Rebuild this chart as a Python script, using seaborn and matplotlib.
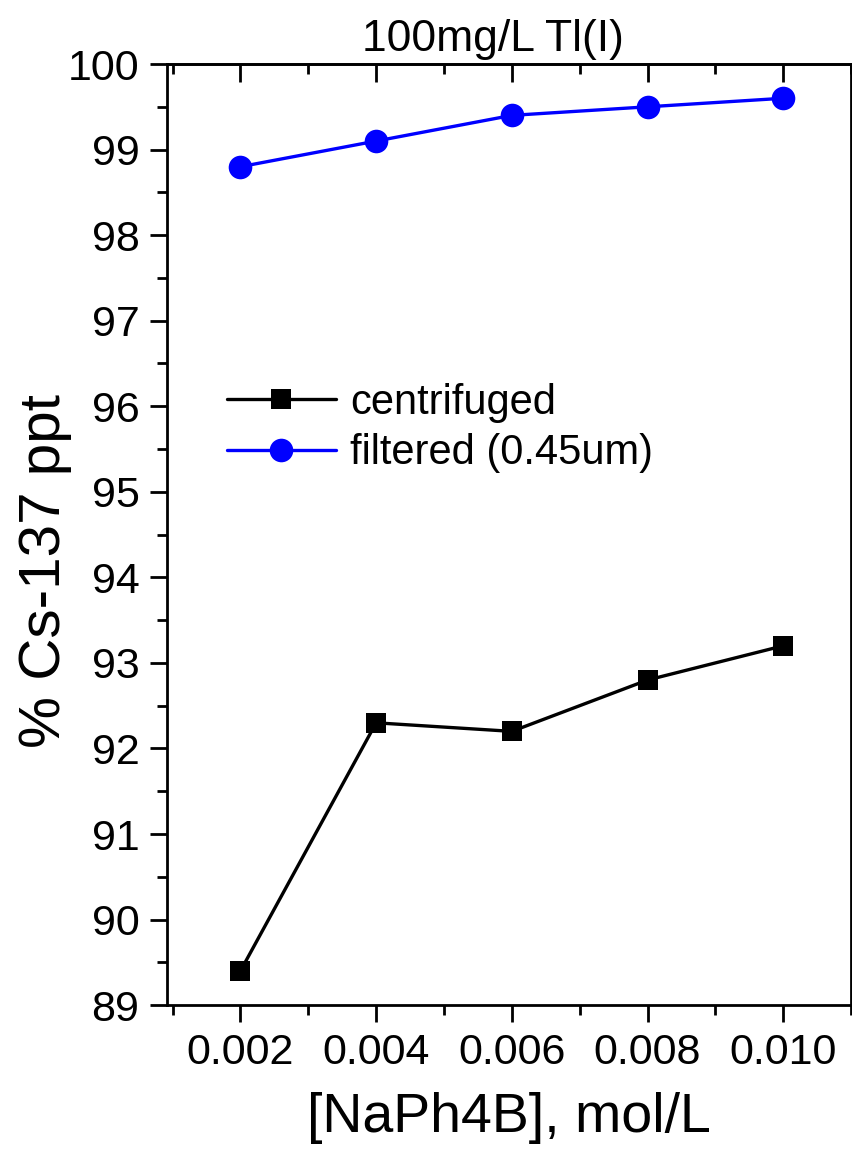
import numpy as np
import matplotlib
matplotlib.use("Agg")
import matplotlib.pyplot as plt
import seaborn as sns
import pandas as pd
from matplotlib.ticker import MultipleLocator, FormatStrFormatter, NullFormatter

# data
conc = [0.002, 0.004, 0.006, 0.008, 0.010]
centrifuged = [89.4, 92.3, 92.2, 92.8, 93.2]
filtered = [98.8, 99.1, 99.4, 99.5, 99.6]

df = pd.DataFrame({'conc': conc * 2,
                   'pct': centrifuged + filtered,
                   'method': ['centrifuged'] * 5 + ['filtered (0.45um)'] * 5})

sns.set_style('ticks')
plt.rcParams['font.family'] = ['Liberation Sans', 'DejaVu Sans']
plt.rcParams['text.color'] = 'black'
plt.rcParams['axes.labelcolor'] = 'black'

fig = plt.figure(figsize=(8.53, 11.58), dpi=100)
ax = fig.add_axes([0.196, 0.132, 0.8017, 0.8127])

sns.lineplot(data=df, x='conc', y='pct', hue='method', style='method',
             palette={'centrifuged': 'black', 'filtered (0.45um)': 'blue'},
             markers={'centrifuged': 's', 'filtered (0.45um)': 'o'},
             dashes=False, linewidth=2.4, markeredgewidth=0, ax=ax)

# marker sizes differ per series
for line, ms in zip(ax.get_lines()[:2], [14.5, 17]):
    line.set_markersize(ms)

ax.set_xlim(0.00092, 0.0110)
ax.set_ylim(89, 100)
ax.xaxis.set_major_locator(MultipleLocator(0.002))
ax.xaxis.set_minor_locator(MultipleLocator(0.001))
ax.xaxis.set_major_formatter(FormatStrFormatter('%.3f'))
ax.yaxis.set_major_locator(MultipleLocator(1))
ax.yaxis.set_minor_locator(MultipleLocator(0.5))

for s in ax.spines.values():
    s.set_linewidth(2)
    s.set_color('black')
ax.tick_params(which='both', width=2, labelsize=31, colors='black')
ax.tick_params(axis='x', which='both', direction='out')
ax.tick_params(axis='y', which='both', right=True, direction='out')
ax.tick_params(which='major', length=12, pad=8)
ax.tick_params(which='minor', length=7)

# top ticks point inward
top = ax.secondary_xaxis('top')
top.xaxis.set_major_locator(MultipleLocator(0.002))
top.xaxis.set_minor_locator(MultipleLocator(0.001))
top.xaxis.set_major_formatter(NullFormatter())
top.tick_params(which='both', direction='in', width=2, colors='black')
top.tick_params(which='major', length=13)
top.tick_params(which='minor', length=7)
top.spines['top'].set_linewidth(2)

ax.set_xlabel('[NaPh4B], mol/L', fontsize=40, labelpad=14)
ax.set_ylabel('% Cs-137 ppt', fontsize=42)
ax.yaxis.set_label_coords(-0.139, 0.461)

fig.text(0.578, 0.966, '100mg/L Tl(I)', fontsize=32, ha='center', va='center')

handles, labels = ax.get_legend_handles_labels()
for h, ms in zip(handles, [14.5, 17]):
    h.set_markersize(ms)
ax.legend(handles=handles, labels=labels, loc='upper left',
          bbox_to_anchor=(0.033, 0.701), frameon=False, fontsize=30,
          handlelength=2.6, handletextpad=0.35, labelspacing=0.25)

fig.savefig('out.png', dpi=100)
